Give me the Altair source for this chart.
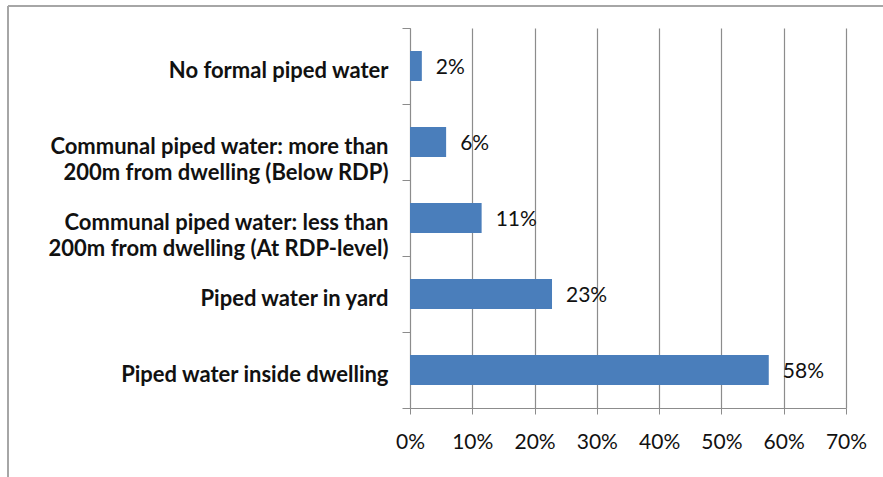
import altair as alt
import pandas as pd

categories = [
    "No formal piped water",
    "Communal piped water: more than\n200m from dwelling (Below RDP)",
    "Communal piped water: less than\n200m from dwelling (At RDP-level)",
    "Piped water in yard",
    "Piped water inside dwelling",
]
values = [0.019, 0.058, 0.115, 0.228, 0.576]
value_labels = ["2%", "6%", "11%", "23%", "58%"]
x_ticks = [0, 0.1, 0.2, 0.3, 0.4, 0.5, 0.6, 0.7]

df = pd.DataFrame({"cat": categories, "val": values, "lab": value_labels})

FONT = "Lato"
GRID = "#8c8c8c"

y_enc = alt.Y(
    "cat:N",
    sort=categories,
    scale=alt.Scale(paddingInner=0, paddingOuter=0),
    axis=alt.Axis(
        title=None,
        tickBand="extent",
        tickSize=8,
        tickColor=GRID,
        domainColor=GRID,
        labelPadding=14,
        labelOffset=4,
        labelFont=FONT,
        labelFontWeight="bold",
        labelFontSize=22,
        labelColor="#111111",
        labelLineHeight=26,
        labelExpr="split(datum.label, '\\n')",
        labelLimit=400,
        grid=False,
    ),
)

x_enc = alt.X(
    "val:Q",
    scale=alt.Scale(domain=[0, 0.7], nice=False),
    axis=alt.Axis(
        title=None,
        values=x_ticks,
        format=".0%",
        grid=True,
        gridColor=GRID,
        gridWidth=1.2,
        tickColor=GRID,
        tickSize=6,
        domainColor=GRID,
        labelFlush=False,
        labelPadding=17,
        labelFont=FONT,
        labelFontSize=21,
        labelColor="#111111",
    ),
)

bars = alt.Chart(df).mark_bar(size=30, color="#4a7ebb").encode(x=x_enc, y=y_enc)

texts = alt.Chart(df).mark_text(
    align="left", baseline="middle", dx=14, dy=2, font=FONT, fontSize=21, color="#111111"
).encode(x="val:Q", y=alt.Y("cat:N", sort=categories), text="lab:N")

frame = alt.Chart(pd.DataFrame({"a": [0]}))
border_v = frame.mark_rule(color="#a6a6a6", strokeWidth=2).encode(
    x=alt.value(-402), y=alt.value(-22), y2=alt.value(470)
)
border_h = frame.mark_rule(color="#a6a6a6", strokeWidth=2).encode(
    y=alt.value(-22), x=alt.value(-402), x2=alt.value(480)
)

chart = (
    alt.layer(bars, texts, border_v, border_h)
    .properties(
        width=436,
        height=380,
        autosize=alt.AutoSizeParams(type="none"),
        padding={"left": 410, "top": 28, "right": 37, "bottom": 69},
        background="white",
    )
    .configure_view(strokeWidth=0)
)

chart.save("out.html", embed_options={"renderer": "svg", "actions": False})
